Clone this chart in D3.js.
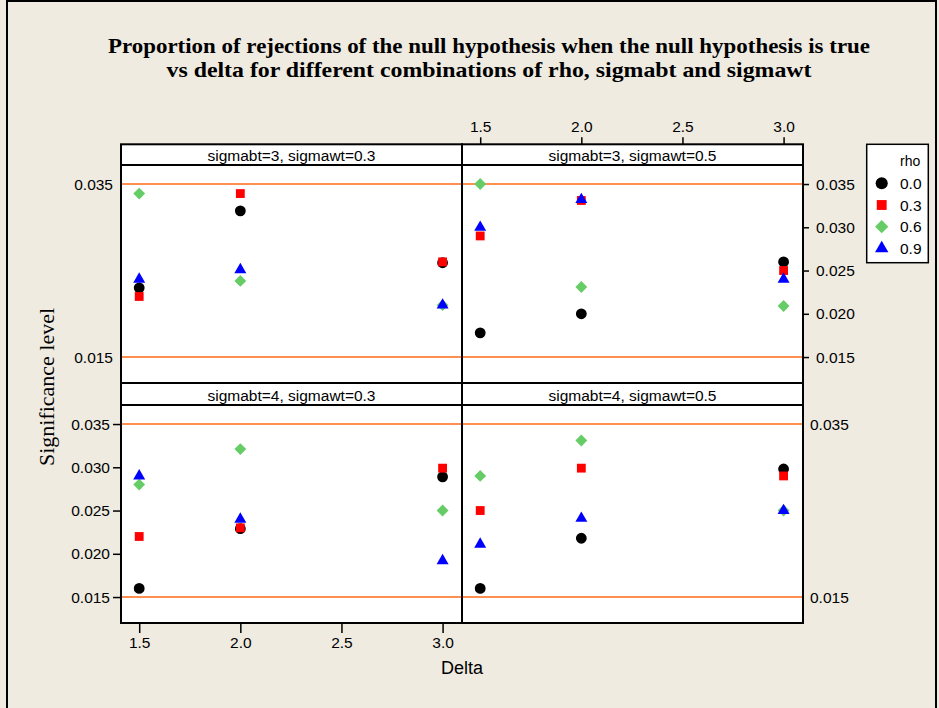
<!DOCTYPE html>
<html><head><meta charset="utf-8">
<script src="https://cdn.jsdelivr.net/npm/d3@7"></script>
<style>body{margin:0;background:#EFEBE1}svg{display:block}</style>
</head><body><svg id="c" width="939" height="708"></svg>
<script>
// ---- data ----
const deltaValues = [1.5, 2.0, 3.0];
const rhoLabels = ["0.0", "0.3", "0.6", "0.9"];
const panelTitles = ["sigmabt=3, sigmawt=0.3", "sigmabt=3, sigmawt=0.5", "sigmabt=4, sigmawt=0.3", "sigmabt=4, sigmawt=0.5"];
const xTickValues = [1.5, 2.0, 2.5, 3.0];
const yTickValues = [0.015, 0.020, 0.025, 0.030, 0.035];
const refLines = [0.015, 0.035];
// rows: rho 0.0, 0.3, 0.6, 0.9 ; columns: delta 1.5, 2.0, 3.0
const sb3sw03 = [[0.0230, 0.0319, 0.0259], [0.0220, 0.0339, 0.0260], [0.0339, 0.0238, 0.0210], [0.0240, 0.0251, 0.0210]];
const sb3sw05 = [[0.0178, 0.0200, 0.0260], [0.0290, 0.0331, 0.0250], [0.0350, 0.0231, 0.0209], [0.0300, 0.0332, 0.0240]];
const sb4sw03 = [[0.0160, 0.0229, 0.0289], [0.0220, 0.0230, 0.0299], [0.0280, 0.0321, 0.0250], [0.0290, 0.0240, 0.0192]];
const sb4sw05 = [[0.0160, 0.0218, 0.0298], [0.0250, 0.0299, 0.0290], [0.0290, 0.0331, 0.0250], [0.0211, 0.0241, 0.0250]];
const panelData = [sb3sw03, sb3sw05, sb4sw03, sb4sw05];

// ---- styles ----
const colors = ["#000000", "#FF0000", "#66CC66", "#0000FF"];
const sans = "'Liberation Sans', Arial, sans-serif";
const serif = "'Liberation Serif', 'Times New Roman', serif";
const orange = "#FF6A14";

const svg = d3.select("#c");
svg.append("rect").attr("x", 7).attr("y", 1).attr("width", 929).attr("height", 730)
  .attr("fill", "#EFEBE1").attr("stroke", "#000").attr("stroke-width", 2);

// title
const title = svg.append("text").attr("font-family", serif).attr("font-weight", "bold")
  .attr("font-size", 21).attr("text-anchor", "middle");
title.append("tspan").attr("x", 489).attr("y", 53).attr("textLength", 762).attr("lengthAdjust", "spacingAndGlyphs")
  .text("Proportion of rejections of the null hypothesis when the null hypothesis is true");
title.append("tspan").attr("x", 489).attr("y", 77).attr("textLength", 645).attr("lengthAdjust", "spacingAndGlyphs")
  .text("vs delta for different combinations of rho, sigmabt and sigmawt");

// layout
const colX = [121, 462];
const panelW = 341;
const rows = [{strip: 144.3, top: 165, bottom: 383}, {strip: 383, top: 405, bottom: 623}];

const xScale = c => d3.scaleLinear().domain([1.41, 3.096]).range([colX[c], colX[c] + panelW]);
const yScale = r => d3.scaleLinear().domain([0.012, 0.0372]).range([rows[r].bottom, rows[r].top]);

const symTypes = [d3.symbolCircle, d3.symbolSquare, d3.symbolSquare, d3.symbolTriangle];
const symSizes = [92, 78, 70, 62];
const symRot = [0, 0, 45, 0];

panelData.forEach((pd, i) => {
  const r = Math.floor(i / 2), c = i % 2;
  const x = xScale(c), y = yScale(r);
  const g = svg.append("g");
  g.append("rect").attr("x", colX[c]).attr("y", rows[r].top).attr("width", panelW)
    .attr("height", rows[r].bottom - rows[r].top).attr("fill", "#fff");
  refLines.forEach(v => {
    g.append("line").attr("x1", colX[c]).attr("x2", colX[c] + panelW)
      .attr("y1", y(v)).attr("y2", y(v)).attr("stroke", orange).attr("stroke-width", 1.6);
  });
  pd.forEach((vals, k) => {
    g.selectAll(null).data(vals).enter().append("path")
      .attr("d", d3.symbol().type(symTypes[k]).size(symSizes[k]))
      .attr("transform", (d, j) => `translate(${x(deltaValues[j])},${y(d)}) rotate(${symRot[k]})`)
      .attr("fill", colors[k]);
  });
  g.append("rect").attr("x", colX[c]).attr("y", rows[r].top).attr("width", panelW)
    .attr("height", rows[r].bottom - rows[r].top).attr("fill", "none").attr("stroke", "#000").attr("stroke-width", 2);
  // strip
  g.append("rect").attr("x", colX[c]).attr("y", rows[r].strip).attr("width", panelW)
    .attr("height", rows[r].top - rows[r].strip).attr("fill", "#fff").attr("stroke", "#000").attr("stroke-width", 2);
  g.append("text").attr("x", colX[c] + panelW / 2).attr("y", rows[r].top - 3.8)
    .attr("text-anchor", "middle").attr("font-family", sans).attr("font-size", 15.5).text(panelTitles[i]);
});

function styleAxis(sel, fs) {
  sel.attr("font-family", sans).attr("font-size", fs);
  sel.select(".domain").remove();
  sel.selectAll("line").attr("stroke", "#000").attr("stroke-width", 1.5);
  sel.selectAll("text").attr("fill", "#000");
}
const fmt = d3.format(".3f");
// bottom-left y axis
svg.append("g").attr("transform", `translate(${colX[0]},0)`)
  .call(d3.axisLeft(yScale(1)).tickValues(yTickValues).tickFormat(fmt).tickSize(8).tickPadding(3))
  .call(s => styleAxis(s, 15.5));
// top-left labels only
svg.append("g").attr("transform", `translate(${colX[0]},0)`)
  .call(d3.axisLeft(yScale(0)).tickValues(refLines).tickFormat(fmt).tickSize(0).tickPadding(8))
  .call(s => styleAxis(s, 15.5));
// top-right y axis
svg.append("g").attr("transform", `translate(${colX[1] + panelW},0)`)
  .call(d3.axisRight(yScale(0)).tickValues(yTickValues).tickFormat(fmt).tickSize(6).tickPadding(7))
  .call(s => styleAxis(s, 15.5));
// bottom-right labels only
svg.append("g").attr("transform", `translate(${colX[1] + panelW},0)`)
  .call(d3.axisRight(yScale(1)).tickValues(refLines).tickFormat(fmt).tickSize(0).tickPadding(7))
  .call(s => styleAxis(s, 15.5));
// bottom x axis (left column)
svg.append("g").attr("transform", `translate(0,${rows[1].bottom})`)
  .call(d3.axisBottom(xScale(0)).tickValues(xTickValues).tickFormat(d3.format(".1f")).tickSize(10).tickPadding(4))
  .call(s => styleAxis(s, 15.5));
// top x axis (right column)
svg.append("g").attr("transform", `translate(0,${rows[0].strip})`)
  .call(d3.axisTop(xScale(1)).tickValues(xTickValues).tickFormat(d3.format(".1f")).tickSize(7).tickPadding(5))
  .call(s => styleAxis(s, 15.5));

// axis titles
svg.append("text").attr("x", colX[1]).attr("y", 674).attr("text-anchor", "middle")
  .attr("font-family", sans).attr("font-size", 18).text("Delta");
svg.append("text").attr("transform", "translate(54,387) rotate(-90)").attr("text-anchor", "middle")
  .attr("font-family", serif).attr("font-size", 22).text("Significance level");

// legend
const lg = svg.append("g");
lg.append("rect").attr("x", 866.7).attr("y", 144.3).attr("width", 61.6).attr("height", 118.4)
  .attr("fill", "#fff").attr("stroke", "#000").attr("stroke-width", 1.5);
lg.append("text").attr("x", 900).attr("y", 166).attr("font-family", sans).attr("font-size", 14).text("rho");
rhoLabels.forEach((lab, k) => {
  const cy = 183.3 + k * 21.7;
  lg.append("path").attr("d", d3.symbol().type(symTypes[k]).size(symSizes[k] * 1.25))
    .attr("transform", `translate(881.7,${cy}) rotate(${symRot[k]})`).attr("fill", colors[k]);
  lg.append("text").attr("x", 900).attr("y", cy + 5.5).attr("font-family", sans).attr("font-size", 15.5).text(lab);
});
</script></body></html>
